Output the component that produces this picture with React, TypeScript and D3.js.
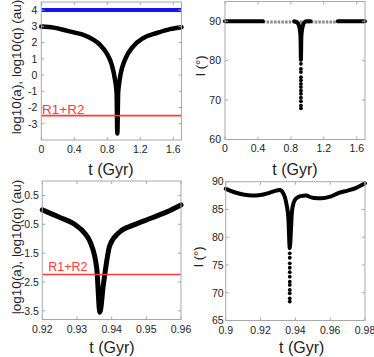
import React from "react";
import * as d3 from "d3";

// ---------- DATA ----------
// Panel 1 (top-left): log10(q) vs t (Gyr), log10(a) constant, R1+R2 line
const p1T = [0, 0.15, 0.307, 0.42, 0.51, 0.63, 0.71, 0.79, 0.853, 0.893, 0.913, 0.922, 0.932, 0.942, 0.962, 1.015, 1.115, 1.236, 1.4, 1.56, 1.7];
const p1LogQ = [2.99, 2.92, 2.74, 2.6, 2.48, 2.18, 1.87, 1.36, 0.65, -0.27, -1.08, -3.6, -1.08, -0.6, 0.07, 0.95, 1.77, 2.28, 2.59, 2.83, 2.95];
const p1LogAT = [0, 1.7];
const p1LogA = [4, 4];
const p1R = -2.5;
const p1XTicks = [0, 0.4, 0.8, 1.2, 1.6];
const p1YTicks = [4, 3, 2, 1, 0, -1, -2, -3];

// Panel 2 (top-right): inclination I vs t
const p2SolidLeftT = [0, 0.46];
const p2SolidLeftI = [90, 90];
const p2DottedT = [0.46, 1.37];
const p2DottedI = [89.8, 89.8];
const p2FunnelT = [0.84, 0.88, 0.9, 0.91, 0.917, 0.922, 0.927, 0.934, 0.945, 0.96, 0.99, 1.04];
const p2FunnelI = [90, 89.6, 88.8, 87.6, 86.0, 80.2, 86.0, 87.6, 88.8, 89.6, 90, 90];
const p2SolidRightT = [1.37, 1.7];
const p2SolidRightI = [90, 90];
const p2DotsI = [79.2, 77.9, 77.1, 75.8, 75.0, 74.1, 73.3, 72.4, 71.6, 70.6, 69.7, 68.6, 67.9];
const p2DotsT = 0.922;
const p2XTicks = [0, 0.4, 0.8, 1.2, 1.6];
const p2YTicks = [60, 70, 80, 90];

// Panel 3 (bottom-left): zoom on log10(q)
const p3T = [0.92, 0.9246, 0.9294, 0.9323, 0.9338, 0.9357, 0.9366, 0.9376, 0.9395, 0.9424, 0.9462, 0.9511, 0.9559, 0.96];
const p3LogQ = [0.0, -0.24, -0.51, -0.82, -1.11, -2.03, -3.55, -2.61, -1.22, -0.76, -0.53, -0.3, -0.07, 0.17];
const p3R = -2.24;
const p3XTicks = [0.92, 0.93, 0.94, 0.95, 0.96];
const p3YTicks = [0.5, -0.5, -1.5, -2.5, -3.5];

// Panel 4 (bottom-right): zoom on I
const p4T = [0.9, 0.905, 0.91, 0.915, 0.92, 0.925, 0.929, 0.931, 0.9325, 0.934, 0.935, 0.936, 0.9368, 0.9375, 0.938, 0.939, 0.9405, 0.943, 0.946, 0.95, 0.955, 0.96, 0.965, 0.97, 0.975, 0.98];
const p4I = [88.7, 88.1, 87.7, 87.5, 87.6, 88.0, 88.4, 88.5, 88.2, 87.2, 85.8, 83.4, 78.0, 81.5, 84.5, 86.2, 87.0, 87.4, 87.5, 87.1, 87.0, 87.3, 88.0, 88.4, 88.9, 89.7];
const p4DotsI = [77.1, 76.3, 75.3, 74.5, 73.7, 72.9, 72.0, 71.4, 70.5, 69.9, 69.0, 68.4];
const p4DotsT = 0.9368;
const p4XTicks = [0.9, 0.92, 0.94, 0.96, 0.98];
const p4YTicks = [65, 70, 75, 80, 85, 90];

const FONT = "'Liberation Sans', Arial, Helvetica, sans-serif";
const AXIS = "#a8a8a8";
const TXT = "#222";

type Sc = d3.ScaleLinear<number, number>;

function Frame({ x, y, xTicks, yTicks, tickFs, xLabY, yLabDx }: { x: Sc; y: Sc; xTicks: number[]; yTicks: number[]; tickFs: number; xLabY: number; yLabDx: number }) {
  const [x0, x1] = x.range();
  const [y0, y1] = y.range(); // y0 bottom, y1 top
  const tl = 3;
  return (
    <g>
      <rect x={x0} y={y1} width={x1 - x0} height={y0 - y1} fill="none" stroke={AXIS} strokeWidth={1} />
      {xTicks.map((t) => (
        <g key={"x" + t}>
          <line x1={x(t)} x2={x(t)} y1={y0} y2={y0 - tl} stroke={AXIS} />
          <line x1={x(t)} x2={x(t)} y1={y1} y2={y1 + tl} stroke={AXIS} />
          <text x={x(t)} y={xLabY} textAnchor="middle" fontSize={tickFs} fill={TXT} fontFamily={FONT}>{String(t)}</text>
        </g>
      ))}
      {yTicks.map((v) => (
        <g key={"y" + v}>
          <line x1={x0} x2={x0 + tl} y1={y(v)} y2={y(v)} stroke={AXIS} />
          <line x1={x1} x2={x1 - tl} y1={y(v)} y2={y(v)} stroke={AXIS} />
          <text x={x0 - yLabDx} y={y(v)} dy="0.36em" textAnchor="end" fontSize={tickFs} fill={TXT} fontFamily={FONT}>{String(v)}</text>
        </g>
      ))}
    </g>
  );
}

function pathOf(x: Sc, y: Sc, ts: number[], vs: number[], curve: d3.CurveFactory = d3.curveLinear) {
  const pts: [number, number][] = ts.map((t, i) => [t, vs[i]]);
  return d3.line<[number, number]>().x((d) => x(d[0])).y((d) => y(d[1])).curve(curve)(pts) || "";
}

export default function App() {
  const x1 = d3.scaleLinear().domain([0, 1.7]).range([41.3, 181.5]);
  const y1 = d3.scaleLinear().domain([-4, 4.5]).range([140, 2]);
  const x2 = d3.scaleLinear().domain([0, 1.7]).range([225, 365]);
  const y2 = d3.scaleLinear().domain([60, 95]).range([139.5, 1.5]);
  const x3 = d3.scaleLinear().domain([0.92, 0.96]).range([42.3, 181]);
  const y3 = d3.scaleLinear().domain([-3.8, 1]).range([319.5, 181]);
  const x4 = d3.scaleLinear().domain([0.9, 0.98]).range([225.7, 365]);
  const y4 = d3.scaleLinear().domain([65, 90]).range([320.5, 181.7]);

  const thick = { fill: "none", stroke: "#000", strokeWidth: 4.5, strokeLinecap: "round" as const, strokeLinejoin: "round" as const };

  return (
    <svg width={374} height={357} style={{ position: "absolute", left: 0, top: 0, background: "#fff" }} fontFamily={FONT}>
      {/* Panel 1 */}
      <g>
        <path d={pathOf(x1, y1, p1LogAT, p1LogA)} fill="none" stroke="#1414f0" strokeWidth={4} />
        <path d={pathOf(x1, y1, p1T, p1LogQ, d3.curveMonotoneX)} {...thick} />
        <line x1={x1(0)} x2={x1(1.7)} y1={y1(p1R)} y2={y1(p1R)} stroke="#ff3a3a" strokeWidth={1.8} />
        <text x={42} y={114.3} fontSize={13.5} fill="#ff3a3a" fontFamily={FONT}>R1+R2</text>
        <Frame x={x1} y={y1} xTicks={p1XTicks} yTicks={p1YTicks} tickFs={10.5} xLabY={152.5} yLabDx={4} />
        <text x={111} y={174.5} textAnchor="middle" fontSize={16} fill={TXT} fontFamily={FONT}>t (Gyr)</text>
        <text transform="translate(16,67) rotate(-90)" textAnchor="middle" dominantBaseline="central" fontSize={13.5} fill={TXT} fontFamily={FONT}>log10(a), log10(q) (au)</text>
      </g>
      {/* Panel 2 */}
      <g>
        <path d={pathOf(x2, y2, p2DottedT, p2DottedI)} fill="none" stroke="#8a8a8a" strokeWidth={3} strokeDasharray="2.5,1.2" />
        <path d={pathOf(x2, y2, p2SolidLeftT, p2SolidLeftI)} {...thick} strokeWidth={4} />
        <path d={pathOf(x2, y2, p2SolidRightT, p2SolidRightI)} {...thick} strokeWidth={4} />
        <path d={pathOf(x2, y2, p2FunnelT, p2FunnelI, d3.curveMonotoneX)} {...thick} strokeWidth={4} />
        {p2DotsI.map((v, i) => (
          <circle key={i} cx={x2(p2DotsT)} cy={y2(v)} r={1.9} fill="#000" />
        ))}
        <Frame x={x2} y={y2} xTicks={p2XTicks} yTicks={p2YTicks} tickFs={10.5} xLabY={152} yLabDx={4} />
        <text x={295} y={174.5} textAnchor="middle" fontSize={16} fill={TXT} fontFamily={FONT}>t (Gyr)</text>
        <text transform="translate(200,66) rotate(-90)" textAnchor="middle" dominantBaseline="central" fontSize={13} fill={TXT} fontFamily={FONT}>I (°)</text>
      </g>
      {/* Panel 3 */}
      <g>
        <path d={pathOf(x3, y3, p3T, p3LogQ, d3.curveMonotoneX)} {...thick} strokeWidth={5} />
        <line x1={x3(0.92)} x2={x3(0.96)} y1={y3(p3R)} y2={y3(p3R)} stroke="#ff3a3a" strokeWidth={1.6} />
        <text x={48.3} y={271} fontSize={12.5} fill="#ff3a3a" fontFamily={FONT}>R1+R2</text>
        <Frame x={x3} y={y3} xTicks={p3XTicks} yTicks={p3YTicks} tickFs={10.5} xLabY={333.3} yLabDx={3.5} />
        <text x={112} y={353} textAnchor="middle" fontSize={16} fill={TXT} fontFamily={FONT}>t (Gyr)</text>
        <text transform="translate(16,247) rotate(-90)" textAnchor="middle" dominantBaseline="central" fontSize={13.5} fill={TXT} fontFamily={FONT}>log10(a), log10(q) (au)</text>
      </g>
      {/* Panel 4 */}
      <g>
        <path d={pathOf(x4, y4, p4T, p4I, d3.curveMonotoneX)} {...thick} strokeWidth={4} />
        {p4DotsI.map((v, i) => (
          <circle key={i} cx={x4(p4DotsT)} cy={y4(v)} r={1.9} fill="#000" />
        ))}
        <Frame x={x4} y={y4} xTicks={p4XTicks} yTicks={p4YTicks} tickFs={10.5} xLabY={334} yLabDx={2} />
        <text x={301.7} y={353} textAnchor="middle" fontSize={16} fill={TXT} fontFamily={FONT}>t (Gyr)</text>
        <text transform="translate(198,257) rotate(-90)" textAnchor="middle" dominantBaseline="central" fontSize={13} fill={TXT} fontFamily={FONT}>I (°)</text>
      </g>
    </svg>
  );
}
